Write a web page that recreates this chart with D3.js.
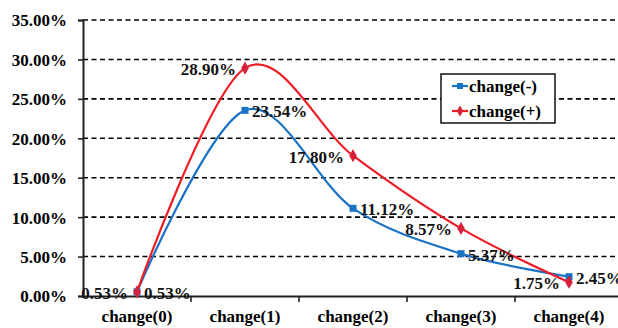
<!DOCTYPE html>
<html><head><meta charset="utf-8">
<script src="https://cdn.jsdelivr.net/npm/d3@7"></script>
<style>body{margin:0;background:#fff}svg{display:block}</style>
</head><body>
<script>
const categories = ["change(0)","change(1)","change(2)","change(3)","change(4)"];
const seriesNames = ["change(-)","change(+)"];
const minusValues = [0.53, 23.54, 11.12, 5.37, 2.45];
const plusValues = [0.53, 28.90, 17.80, 8.57, 1.75];
const yTicks = [0,5,10,15,20,25,30,35];

const W = 618, H = 328;
const FONT = "Liberation Serif";
const svg = d3.select("body").append("svg").attr("width", W).attr("height", H)
  .attr("font-family", FONT).attr("font-weight", "bold");

const x = d3.scaleBand().domain(categories).range([83, 623]).padding(0);
const y = d3.scaleLinear().domain([0, 35]).range([296, 20]);
const cx = c => x(c) + x.bandwidth() / 2;

const colors = {minus: "#1a72c4", plus: "#ee1c25", plusMarker: "#d8203a"};

// gridlines
svg.append("g").selectAll("line").data(yTicks.filter(d => d > 0)).join("line")
  .attr("x1", 83).attr("x2", W).attr("y1", d => y(d)).attr("y2", d => y(d))
  .attr("stroke", "#000").attr("stroke-width", 1.6).attr("stroke-dasharray", "5,3.5");

// y axis
const yAxis = svg.append("g").attr("transform", "translate(83,0)")
  .call(d3.axisLeft(y).tickValues(yTicks).tickSize(5).tickPadding(11).tickFormat(d => d.toFixed(2) + "%"));
yAxis.attr("font-family", FONT);
yAxis.select(".domain").attr("stroke", "#222").attr("stroke-width", 2);
yAxis.selectAll(".tick line").attr("stroke", "#222").attr("stroke-width", 1.6);
yAxis.selectAll("text").attr("font-family", FONT).attr("font-weight", "bold")
  .attr("font-size", 17).attr("fill", "#000").attr("dy", "0.35em");

// x axis
const xAxis = svg.append("g").attr("transform", "translate(0,296)")
  .call(d3.axisBottom(x).tickSize(0).tickPadding(14));
xAxis.attr("font-family", FONT);
xAxis.select(".domain").attr("stroke", "#222").attr("stroke-width", 2);
xAxis.selectAll("text").attr("font-family", FONT).attr("font-weight", "bold")
  .attr("font-size", 17).attr("fill", "#000");
xAxis.append("g").selectAll("line").data(categories.slice(1)).join("line")
  .attr("x1", d => x(d)).attr("x2", d => x(d)).attr("y1", 0).attr("y2", 6)
  .attr("stroke", "#222").attr("stroke-width", 1.6);

const line = d3.line().x((d, i) => cx(categories[i])).y(d => y(d)).curve(d3.curveCatmullRom.alpha(0));

// series lines
svg.append("path").datum(minusValues).attr("d", line)
  .attr("fill", "none").attr("stroke", colors.minus).attr("stroke-width", 2.2);
svg.append("path").datum(plusValues).attr("d", line)
  .attr("fill", "none").attr("stroke", colors.plus).attr("stroke-width", 2.2);

// markers
svg.append("g").selectAll("rect").data(minusValues).join("rect")
  .attr("x", (d, i) => cx(categories[i]) - 3.5).attr("y", d => y(d) - 3.5)
  .attr("width", 7).attr("height", 7).attr("fill", colors.minus);
const diamond = d3.symbol().type(d3.symbolDiamond).size(50);
svg.append("g").selectAll("path").data(plusValues).join("path")
  .attr("d", diamond)
  .attr("transform", (d, i) => `translate(${cx(categories[i])},${y(d)})`)
  .attr("fill", colors.plusMarker);

// data labels
const fmt = d => d.toFixed(2) + "%";
function labels(vals, side) {
  svg.append("g").selectAll("text").data(vals).join("text")
    .attr("x", (d, i) => cx(categories[i]) + (side === "right" ? 7 : -9))
    .attr("y", d => y(d) + 7)
    .attr("text-anchor", side === "right" ? "start" : "end")
    .attr("font-family", FONT).attr("font-weight", "bold")
    .attr("font-size", 17).attr("fill", "#111").text(fmt);
}
labels(minusValues, "right");
labels(plusValues, "left");

// legend
const lg = svg.append("g");
lg.append("rect").attr("x", 441).attr("y", 74).attr("width", 114).attr("height", 49)
  .attr("fill", "#fff").attr("stroke", "#111").attr("stroke-width", 1.5);
const items = [{name: seriesNames[0], c: colors.minus, m: "sq"}, {name: seriesNames[1], c: colors.plus, m: "di"}];
items.forEach((it, i) => {
  const yy = 86 + i * 25;
  lg.append("line").attr("x1", 452).attr("x2", 468).attr("y1", yy).attr("y2", yy)
    .attr("stroke", it.c).attr("stroke-width", 2.2);
  if (it.m === "sq") lg.append("rect").attr("x", 457).attr("y", yy - 3).attr("width", 6).attr("height", 6).attr("fill", it.c);
  else lg.append("path").attr("d", d3.symbol().type(d3.symbolDiamond).size(36)).attr("transform", `translate(460,${yy})`).attr("fill", colors.plusMarker);
  lg.append("text").attr("x", 469).attr("y", yy + 6)
    .attr("font-family", FONT).attr("font-weight", "bold")
    .attr("font-size", 17).attr("fill", "#000").text(it.name);
});
</script>
</body></html>
